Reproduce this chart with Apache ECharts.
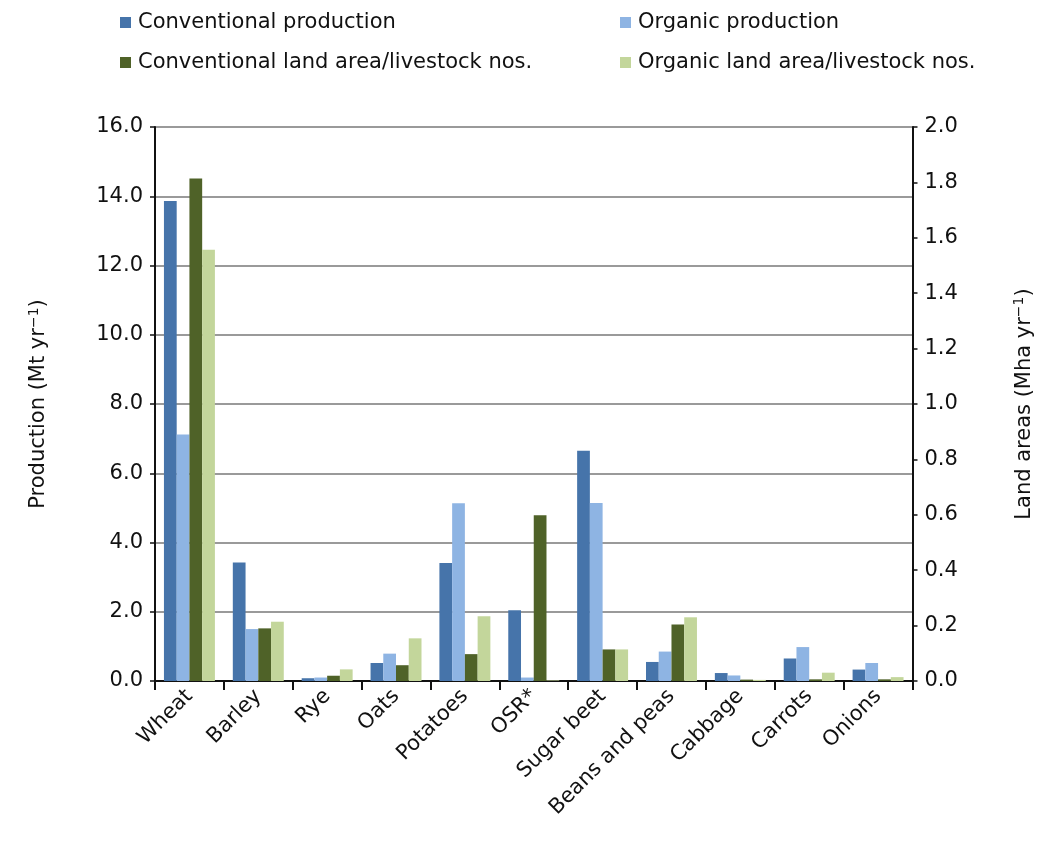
<!DOCTYPE html>
<html>
<head>
<meta charset="utf-8">
<script src="https://cdn.jsdelivr.net/npm/echarts@6/dist/echarts.min.js"></script>
<style>
  html, body { margin: 0; padding: 0; background: #fff; }
  #chart { width: 1043px; height: 843px; }
</style>
</head>
<body>
<div id="chart"></div>
<script>
// Crops on the x axis
const categories = ['Wheat', 'Barley', 'Rye', 'Oats', 'Potatoes', 'OSR*', 'Sugar beet', 'Beans and peas', 'Cabbage', 'Carrots', 'Onions'];

// Production, Mt per year (left axis)
const conventionalProduction = [13.86, 3.42, 0.08, 0.52, 3.41, 2.04, 6.65, 0.55, 0.23, 0.65, 0.33];
const organicProduction      = [7.12, 1.50, 0.10, 0.79, 5.13, 0.10, 5.14, 0.85, 0.16, 0.98, 0.52];

// Land area / livestock numbers, Mha per year (right axis)
const conventionalLand = [1.814, 0.190, 0.019, 0.057, 0.097, 0.598, 0.114, 0.204, 0.005, 0.006, 0.006];
const organicLand      = [1.557, 0.214, 0.042, 0.154, 0.234, 0.002, 0.114, 0.230, 0.004, 0.030, 0.014];

const leftTicks = { min: 0, max: 16, interval: 2 };
const rightTicks = { min: 0, max: 2, interval: 0.2 };

const colors = {
  convProd: '#4674AA',
  orgProd: '#8EB4E3',
  convLand: '#4F6228',
  orgLand: '#C3D69B'
};

const font = 'DejaVu Sans, Arial, sans-serif';
const fontSize = 21;
const chart = echarts.init(document.getElementById('chart'));

function legendAt(name, left, top) {
  return {
    data: [name],
    left: left,
    top: top,
    icon: 'rect',
    itemWidth: 11,
    itemHeight: 11,
    itemGap: 0,
    textStyle: { fontFamily: font, fontSize: fontSize, color: '#111', padding: [0, 0, 0, 2] },
    selectedMode: false
  };
}

const axisNameRich = {
  t: { fontFamily: font, fontSize: fontSize, color: '#111' },
  sup: { fontFamily: font, fontSize: 14, color: '#111', verticalAlign: 'bottom', padding: [0, 0, 10, 0] }
};

chart.setOption({
  animation: false,
  backgroundColor: '#fff',
  color: [colors.convProd, colors.orgProd, colors.convLand, colors.orgLand],
  legend: [
    legendAt('Conventional production', 115, 7),
    legendAt('Organic production', 615, 7),
    legendAt('Conventional land area/livestock nos.', 115, 47),
    legendAt('Organic land area/livestock nos.', 615, 47)
  ],
  grid: { left: 155, right: 125, top: 127, bottom: 162 },
  xAxis: {
    type: 'category',
    data: categories,
    axisLine: { lineStyle: { color: '#111', width: 2 } },
    axisTick: { show: true, length: 9, lineStyle: { color: '#111', width: 2 } },
    axisLabel: {
      rotate: 45,
      interval: 0,
      margin: 12,
      fontFamily: font,
      fontSize: fontSize,
      color: '#111'
    }
  },
  yAxis: [
    {
      type: 'value',
      position: 'left',
      min: leftTicks.min,
      max: leftTicks.max,
      interval: leftTicks.interval,
      name: '{t|Production (Mt yr}{sup|−1}{t|)}',
      nameLocation: 'middle',
      nameRotate: 90,
      nameGap: 104,
      nameTextStyle: { rich: axisNameRich },
      axisLine: { show: true, lineStyle: { color: '#111', width: 2 } },
      axisTick: { show: true, length: 5, lineStyle: { color: '#111', width: 1.5 } },
      axisLabel: {
        margin: 12,
        fontFamily: font,
        fontSize: fontSize,
        color: '#111',
        formatter: v => v.toFixed(1)
      },
      splitLine: { show: true, lineStyle: { color: '#9a9a9a', width: 2 } }
    },
    {
      type: 'value',
      position: 'right',
      min: rightTicks.min,
      max: rightTicks.max,
      interval: rightTicks.interval,
      name: '{t|Land areas (Mha yr}{sup|−1}{t|)}',
      nameLocation: 'middle',
      nameRotate: 90,
      nameGap: 100,
      nameTextStyle: { rich: axisNameRich },
      axisLine: { show: true, lineStyle: { color: '#111', width: 2 } },
      axisTick: { show: true, length: 5, lineStyle: { color: '#111', width: 1.5 } },
      axisLabel: {
        margin: 12,
        fontFamily: font,
        fontSize: fontSize,
        color: '#111',
        formatter: v => v.toFixed(1)
      },
      splitLine: { show: false }
    }
  ],
  series: [
    {
      name: 'Conventional production',
      type: 'bar',
      yAxisIndex: 0,
      data: conventionalProduction,
      barGap: '0%',
      barCategoryGap: '26%',
      itemStyle: { color: colors.convProd }
    },
    {
      name: 'Organic production',
      type: 'bar',
      yAxisIndex: 0,
      data: organicProduction,
      itemStyle: { color: colors.orgProd }
    },
    {
      name: 'Conventional land area/livestock nos.',
      type: 'bar',
      yAxisIndex: 1,
      data: conventionalLand,
      itemStyle: { color: colors.convLand }
    },
    {
      name: 'Organic land area/livestock nos.',
      type: 'bar',
      yAxisIndex: 1,
      data: organicLand,
      itemStyle: { color: colors.orgLand }
    }
  ]
});
</script>
</body>
</html>
